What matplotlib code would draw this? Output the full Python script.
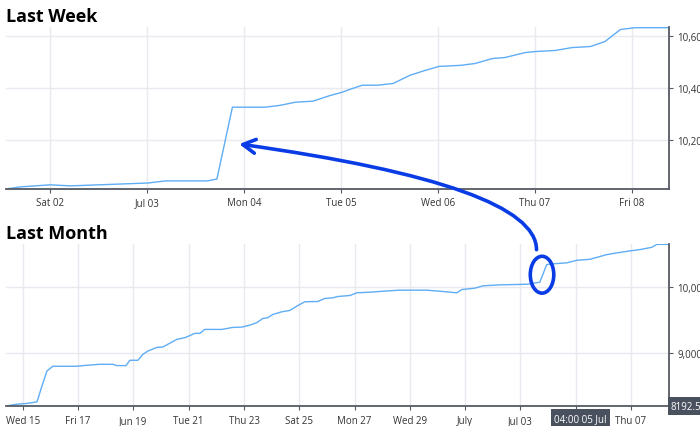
import numpy as np
import pandas as pd
import matplotlib
matplotlib.use("Agg")
import matplotlib.pyplot as plt
import matplotlib.dates as mdates
from matplotlib.patches import Ellipse, ConnectionPatch

plt.rcParams['font.family'] = ['Open Sans', 'DejaVu Sans']

## Last week: days since 1 Jul 2022 (fractional) and balance
week_days = [0.546, 0.69, 1.0, 1.21, 2.01, 2.19, 2.62, 2.72, 2.88, 3.22, 3.37, 3.53,
             3.71, 3.89, 4.01, 4.09, 4.22, 4.38, 4.54, 4.71, 4.87, 5.01, 5.23, 5.38,
             5.56, 5.69, 5.90, 6.01, 6.21, 6.38, 6.57, 6.72, 6.88, 7.03, 7.38]
week_vals = [10013, 10021, 10029, 10025, 10036, 10044, 10044, 10051, 10326, 10326, 10333, 10345,
             10349, 10371, 10383, 10394, 10410, 10410, 10417, 10448, 10467, 10482, 10486, 10493,
             10512, 10516, 10535, 10539, 10543, 10554, 10558, 10577, 10623, 10630, 10630]

## Last month: days since 15 Jun 2022
month_days = [-0.61, -0.22, 0.14, 0.51, 0.69, 0.87, 1.08, 1.95, 2.17, 2.78, 3.25, 3.40,
              3.73, 3.87, 4.16, 4.34, 4.52, 4.85, 5.06, 5.24, 5.57, 5.86, 6.22, 6.40,
              6.58, 7.20, 7.59, 7.92, 8.21, 8.46, 8.68, 8.86, 9.04, 9.37, 9.66, 9.95,
              10.20, 10.67, 10.92, 11.21, 11.39, 11.83, 12.08, 12.55, 13.02, 13.63, 14.61, 15.08,
              15.70, 15.88, 16.35, 16.64, 17.25, 18.23, 18.70, 18.95, 19.17, 19.67, 20.04, 20.51,
              21.12, 21.48, 21.95, 22.31, 22.75, 22.93, 23.36]
month_vals = [8195, 8223, 8234, 8258, 8500, 8727, 8799, 8799, 8809, 8829, 8829, 8809,
              8809, 8890, 8890, 8980, 9030, 9086, 9091, 9132, 9208, 9233, 9299, 9299,
              9359, 9359, 9389, 9394, 9424, 9461, 9526, 9536, 9586, 9627, 9647, 9723,
              9779, 9783, 9829, 9839, 9859, 9874, 9915, 9924, 9939, 9955, 9955, 9939,
              9915, 9965, 9985, 10021, 10036, 10045, 10076, 10344, 10355, 10370, 10409, 10424,
              10495, 10521, 10551, 10571, 10606, 10651, 10651]

week_ticks = ['2022-07-02', '2022-07-03', '2022-07-04', '2022-07-05', '2022-07-06', '2022-07-07', '2022-07-08']
week_labels = ['Sat 02', 'Jul 03', 'Mon 04', 'Tue 05', 'Wed 06', 'Thu 07', 'Fri 08']
month_ticks = ['2022-06-15', '2022-06-17', '2022-06-19', '2022-06-21', '2022-06-23', '2022-06-25',
               '2022-06-27', '2022-06-29', '2022-07-01', '2022-07-03', '2022-07-05', '2022-07-07']
month_labels = ['Wed 15', 'Fri 17', 'Jun 19', 'Tue 21', 'Thu 23', 'Sat 25',
                'Mon 27', 'Wed 29', 'July', 'Jul 03', '', 'Thu 07']
week_yticks = [10200, 10400, 10600]
month_yticks = [9000, 10000]

line_col = '#5fadf5'
grid_col = '#e8eaf0'
axis_col = '#555a63'
pen = '#0a3ce6'

week0 = pd.Timestamp('2022-07-01')
month0 = pd.Timestamp('2022-06-15')
week_t = week0 + pd.to_timedelta(week_days, unit='D')
month_t = month0 + pd.to_timedelta(month_days, unit='D')

fig = plt.figure(figsize=(7, 4.27), dpi=100)
ax1 = fig.add_axes([0.0086, 0.555, 0.947, 0.379])
ax2 = fig.add_axes([0.0086, 0.046, 0.947, 0.380])


def style(ax, ticks, labels, yticks):
    ax.set_xticks(pd.to_datetime(ticks))
    ax.set_xticklabels(labels)
    ax.set_yticks(yticks)
    ax.set_yticklabels([f'{v:,}' for v in yticks])
    ax.yaxis.tick_right()
    ax.grid(True, color=grid_col, linewidth=1)
    ax.set_axisbelow(True)
    for s in ['left', 'top']:
        ax.spines[s].set_visible(False)
    for s in ['bottom', 'right']:
        ax.spines[s].set_color(axis_col)
        ax.spines[s].set_linewidth(1.3)
    ax.tick_params(axis='both', colors=axis_col, labelcolor='#333333', labelsize=7, length=3, width=0.8, pad=3)


ax1.plot(week_t, week_vals, color=line_col, linewidth=1)
ax1.set_xlim(week0 + pd.Timedelta(days=0.546), week0 + pd.Timedelta(days=7.38))
ax1.set_ylim(10013, 10632)
style(ax1, week_ticks, week_labels, week_yticks)

ax2.plot(month_t, month_vals, color=line_col, linewidth=1)
ax2.set_xlim(month0 + pd.Timedelta(days=-0.61), month0 + pd.Timedelta(days=23.37))
ax2.set_ylim(8190, 10655)
style(ax2, month_ticks, month_labels, month_yticks)

fig.text(0.008, 0.96, 'Last Week', fontsize=13, fontweight='bold', va='center', ha='left')
fig.text(0.008, 0.452, 'Last Month', fontsize=13, fontweight='bold', va='center', ha='left')

# crosshair labels
ax2.text(pd.Timestamp('2022-07-05 04:00'), -0.04, '04:00 05 Jul', transform=ax2.get_xaxis_transform(),
         ha='center', va='top', fontsize=7, color='white',
         bbox=dict(boxstyle='square,pad=0.35', fc='#4a515e', ec='none'))
ax2.text(1.003, 0.0, '8192.5', transform=ax2.transAxes, ha='left', va='center', fontsize=7, color='white',
         bbox=dict(boxstyle='square,pad=0.35', fc='#4a515e', ec='none'))

# hand drawn annotation: circle the jump in the month chart, arrow to the week chart
jump_m = mdates.date2num(month0 + pd.Timedelta(days=18.78))
ax2.add_patch(Ellipse((jump_m, 10190), width=0.85, height=560, angle=0,
                      fill=False, ec=pen, lw=2.6, zorder=5))
jump_w = mdates.date2num(week0 + pd.Timedelta(days=2.95))
con = ConnectionPatch(xyA=(jump_m - 0.2, 10570), coordsA=ax2.transData,
                      xyB=(jump_w, 10185), coordsB=ax1.transData,
                      arrowstyle='->,head_length=0.9,head_width=0.5',
                      connectionstyle='angle3,angleA=90,angleB=-8',
                      color=pen, lw=2.6, zorder=10)
fig.add_artist(con)

fig.savefig('out.png', dpi=100)
